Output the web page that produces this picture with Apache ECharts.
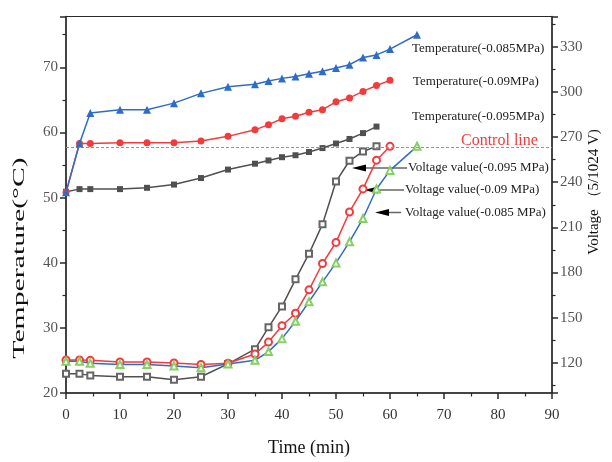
<!DOCTYPE html>
<html><head><meta charset="utf-8">
<script src="https://cdn.jsdelivr.net/npm/echarts@6/dist/echarts.min.js"></script>
<style>html,body{margin:0;padding:0;background:#fff}#c{width:612px;height:462px}</style>
</head><body><div id="c"></div>
<script>
// ---- data (time in min) ----
const timeBlueTemp = [0, 2.5, 4.5, 10, 15, 20, 25, 30, 35, 37.5, 40, 42.5, 45, 47.5, 50, 52.5, 55, 57.5, 60, 65];
const tempBlue = [50.8, 58.3, 63.0, 63.5, 63.5, 64.5, 66.0, 67.0, 67.4, 67.9, 68.3, 68.6, 69.0, 69.4, 69.9, 70.4, 71.5, 71.9, 72.8, 75.0];
const timeRedTemp = [0, 2.5, 4.5, 10, 15, 20, 25, 30, 35, 37.5, 40, 42.5, 45, 47.5, 50, 52.5, 55, 57.5, 60];
const tempRed = [50.8, 58.3, 58.3, 58.4, 58.4, 58.4, 58.7, 59.4, 60.4, 61.2, 62.1, 62.5, 63.1, 63.5, 64.7, 65.3, 66.3, 67.2, 68.0];
const timeBlackTemp = [0, 2.5, 4.5, 10, 15, 20, 25, 30, 35, 37.5, 40, 42.5, 45, 47.5, 50, 52.5, 55, 57.5];
const tempBlack = [50.9, 51.3, 51.3, 51.3, 51.5, 52.0, 53.0, 54.3, 55.2, 55.7, 56.2, 56.5, 57.0, 57.6, 58.3, 59.0, 59.9, 60.9];

const timeVolt095 = [0, 2.5, 4.5, 10, 15, 20, 25, 30, 35, 37.5, 40, 42.5, 45, 47.5, 50, 52.5, 55, 57.5];
const volt095 = [112.7, 112.7, 111.7, 110.8, 110.8, 108.8, 110.8, 119.3, 129.1, 143.6, 157.5, 175.5, 192.5, 212.1, 240.4, 254.2, 260.4, 263.8];
const timeVolt09 = [0, 2.5, 4.5, 10, 15, 20, 25, 30, 35, 37.5, 40, 42.5, 45, 47.5, 50, 52.5, 55, 57.5, 60];
const volt09 = [121.9, 121.9, 121.7, 120.6, 120.6, 120.0, 118.9, 119.8, 125.9, 133.8, 144.7, 153.0, 168.5, 186.0, 200.0, 220.2, 235.5, 254.6, 263.8];
const timeVolt085 = [0, 2.5, 4.5, 10, 15, 20, 25, 30, 35, 37.5, 40, 42.5, 45, 47.5, 50, 52.5, 55, 57.5, 60, 65];
const volt085 = [121.1, 121.1, 119.8, 118.9, 118.9, 118.0, 116.8, 119.2, 121.7, 127.5, 136.1, 147.6, 160.6, 173.8, 186.4, 200.4, 215.9, 235.5, 247.8, 263.8];

const controlLine = 57.8;
const tempTicks = [20, 30, 40, 50, 60, 70];
const voltTicks = [120, 150, 180, 210, 240, 270, 300, 330];

// ---- chart ----
const pairs = (xs, ys) => xs.map((x, i) => [x, ys[i]]);
const FONT = '"Liberation Serif","Times New Roman",serif';
const BLUE = '#2f6cc6', RED = '#f23b3d', DARK = '#505050', GREEN = '#86cf62';
const axisCol = '#2a2a2a';

const chart = echarts.init(document.getElementById('c'), null, {renderer: 'canvas'});

function yAxisBase(pos, ticks) {
  return {
    type: 'value', position: pos,
    axisLine: {show: true, onZero: false, lineStyle: {color: axisCol, width: 1.5}},
    axisTick: {show: true, inside: false, length: 6, lineStyle: {color: axisCol, width: 1.5}},
    minorTick: {show: true, splitNumber: 2, length: 3.5, lineStyle: {color: axisCol, width: 1.2}},
    splitLine: {show: false},
    axisLabel: {
      color: '#555', fontFamily: FONT, fontSize: 15, margin: 8,
      formatter: v => ticks.some(t => Math.abs(t - v) < 1e-6) ? String(v) : ''
    }
  };
}

const option = {
  animation: false,
  backgroundColor: '#fff',
  grid: {left: 66, right: 60, top: 16.5, bottom: 55.3, show: true, borderColor: axisCol, borderWidth: 1, backgroundColor: 'transparent'},
  xAxis: {
    type: 'value', min: 0, max: 90, interval: 10,
    axisLine: {show: true, onZero: false, lineStyle: {color: axisCol, width: 1.5}},
    axisTick: {show: true, inside: false, length: 6, lineStyle: {color: axisCol, width: 1.5}},
    minorTick: {show: true, splitNumber: 2, length: 3.5, lineStyle: {color: axisCol, width: 1.2}},
    splitLine: {show: false},
    axisLabel: {color: '#333', fontFamily: FONT, fontSize: 15, margin: 15},
    name: 'Time (min)', nameLocation: 'middle', nameGap: 46,
    nameTextStyle: {fontFamily: FONT, fontSize: 18, color: '#111'}
  },
  yAxis: [
    Object.assign(yAxisBase('left', tempTicks), {min: 20, max: 77.8, splitNumber: 5}),
    Object.assign(yAxisBase('right', voltTicks), {min: 100, max: 350, splitNumber: 8})
  ],
  series: [
    {name: 'Voltage value(-0.095 MPa)', type: 'line', yAxisIndex: 1, data: pairs(timeVolt095, volt095),
     symbol: 'emptyRect', symbolSize: 6, color: '#666', lineStyle: {color: DARK, width: 1.5}, z: 3},
    {name: 'Voltage value(-0.09 MPa)', type: 'line', yAxisIndex: 1, data: pairs(timeVolt09, volt09),
     symbol: 'emptyCircle', symbolSize: 7, color: RED, lineStyle: {color: RED, width: 1.5}, z: 3},
    {name: 'Voltage value(-0.085 MPa)', type: 'line', yAxisIndex: 1, data: pairs(timeVolt085, volt085),
     symbol: 'emptyTriangle', symbolSize: 7, color: GREEN, lineStyle: {color: BLUE, width: 1.5}, z: 3},
    {name: 'Temperature(-0.095MPa)', type: 'line', yAxisIndex: 0, data: pairs(timeBlackTemp, tempBlack),
     symbol: 'rect', symbolSize: 6, color: DARK, lineStyle: {color: DARK, width: 1.5}, z: 4,
     markLine: {silent: true, symbol: 'none', label: {show: false},
       lineStyle: {color: '#f56a6a', type: [3, 2], width: 1}, data: [{yAxis: controlLine}]}},
    {name: 'Temperature(-0.09MPa)', type: 'line', yAxisIndex: 0, data: pairs(timeRedTemp, tempRed),
     symbol: 'circle', symbolSize: 7, color: RED, lineStyle: {color: RED, width: 1.5}, z: 4},
    {name: 'Temperature(-0.085MPa)', type: 'line', yAxisIndex: 0, data: pairs(timeBlueTemp, tempBlue),
     symbol: 'triangle', symbolSize: 8, color: BLUE, lineStyle: {color: BLUE, width: 1.5}, z: 5}
  ],
  graphic: [
    {type: 'text', x: 20, y: 258, rotation: Math.PI / 2, scaleX: 1.75,
     style: {text: 'Temperature(°C)', x: 0, y: 0, align: 'center', verticalAlign: 'middle', font: '17px ' + FONT, fill: '#111'}},
    {type: 'text', x: 594, y: 192, rotation: Math.PI / 2,
     style: {text: 'Voltage （5/1024 V)', x: 0, y: 0, align: 'center', verticalAlign: 'middle', font: '15px ' + FONT, fill: '#111'}},
    {type: 'text', style: {text: 'Temperature(-0.085MPa)', x: 412, y: 49, verticalAlign: 'middle', font: '13px ' + FONT, fill: '#222'}},
    {type: 'text', style: {text: 'Temperature(-0.09MPa)', x: 413, y: 82, verticalAlign: 'middle', font: '13px ' + FONT, fill: '#222'}},
    {type: 'text', style: {text: 'Temperature(-0.095MPa)', x: 412, y: 117, verticalAlign: 'middle', font: '13px ' + FONT, fill: '#222'}},
    {type: 'text', style: {text: 'Control line', x: 461, y: 141, verticalAlign: 'middle', font: '16px ' + FONT, fill: '#f23b3d'}},
    {type: 'text', style: {text: 'Voltage value(-0.095 MPa)', x: 408, y: 168, verticalAlign: 'middle', font: '13px ' + FONT, fill: '#222'}},
    {type: 'text', style: {text: 'Voltage value(-0.09 MPa)', x: 405, y: 190, verticalAlign: 'middle', font: '13px ' + FONT, fill: '#222'}},
    {type: 'text', style: {text: 'Voltage value(-0.085 MPa)', x: 405, y: 212.5, verticalAlign: 'middle', font: '13px ' + FONT, fill: '#222'}},
    {type: 'line', shape: {x1: 366, y1: 168, x2: 407, y2: 168}, style: {stroke: '#666', lineWidth: 1.5}},
    {type: 'polygon', shape: {points: [[352, 168], [366, 164.5], [366, 171.5]]}, style: {fill: '#000'}},
    {type: 'line', shape: {x1: 378, y1: 190, x2: 404, y2: 190}, style: {stroke: '#666', lineWidth: 1.5}},
    {type: 'polygon', shape: {points: [[364, 190], [378, 186.5], [378, 193.5]]}, style: {fill: '#000'}},
    {type: 'line', shape: {x1: 389, y1: 212.5, x2: 401, y2: 212.5}, style: {stroke: '#666', lineWidth: 1.5}},
    {type: 'polygon', shape: {points: [[375, 212.5], [389, 209], [389, 216]]}, style: {fill: '#000'}}
  ]
};
chart.setOption(option);
</script>
</body></html>
